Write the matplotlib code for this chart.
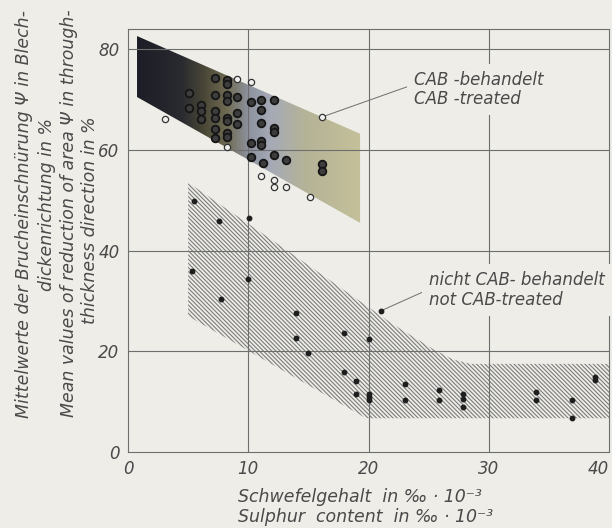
import numpy as np
import matplotlib
matplotlib.use("Agg")
import matplotlib.pyplot as plt
from matplotlib.patches import Polygon
from matplotlib.colors import LinearSegmentedColormap

# CAB-treated, filled circles
cab_x = [7.2, 8.2, 8.2, 5.1, 7.2, 8.2, 8.2, 9.1, 10.2, 11.1, 12.1, 5.1, 6.1, 6.1, 6.1,
         7.2, 7.2, 8.2, 8.2, 9.1, 9.1, 11.1, 11.1, 12.1, 12.1, 7.2, 7.2, 8.2, 8.2,
         10.2, 11.1, 11.1, 10.2, 12.1, 11.2, 13.1, 16.1, 16.1]
cab_y = [74.3, 73.8, 73.0, 71.3, 70.9, 70.9, 69.7, 70.5, 69.5, 69.9, 69.9, 68.3, 69.0, 67.7, 66.1,
         67.7, 66.4, 66.4, 65.7, 67.4, 65.1, 68.0, 65.4, 64.4, 63.6, 64.1, 62.3, 63.4, 62.6,
         61.4, 61.8, 61.0, 58.6, 59.0, 57.4, 58.0, 57.2, 55.8]

# CAB-treated, open circles
open_x = [3.1, 9.1, 10.2, 8.2, 16.1, 11.1, 12.1, 12.1, 13.1, 15.1]
open_y = [66.2, 74.0, 73.5, 60.5, 66.5, 54.8, 54.0, 52.7, 52.7, 50.6]

# not CAB-treated, small dots
not_x = [5.5, 7.6, 10.1, 5.3, 10.0, 7.7, 14.0, 14.0, 15.0, 18.0, 20.0, 21.0, 18.0, 19.0, 19.0,
         20.0, 20.0, 20.0, 23.0, 23.0, 25.9, 25.9, 27.9, 27.9, 27.9, 33.9, 33.9, 36.9, 36.9,
         38.8, 38.8]
not_y = [49.8, 45.9, 46.5, 35.9, 34.4, 30.4, 27.7, 22.7, 19.6, 23.7, 22.5, 28.0, 15.8, 14.1, 11.5,
         11.6, 11.0, 10.3, 13.6, 10.4, 12.3, 10.3, 11.6, 10.6, 9.0, 11.9, 10.3, 10.3, 6.7,
         14.8, 14.3]

# scatter bands
cab_band = [(0.75, 82.6), (19.3, 63.2), (19.3, 45.5), (0.75, 70.5)]
not_band = [(5.0, 53.5), (13.25, 40.0), (20.75, 27.5), (22.0, 25.4), (23.5, 23.2),
            (25.4, 20.4), (27.0, 18.4), (28.5, 17.5), (40, 17.5), (40, 6.7),
            (19.8, 6.7), (5.0, 27.0)]

bg = "#eeede8"
ink = "#4a4a4a"
grid_c = "#6e6e6e"

fig = plt.figure(figsize=(6.12, 5.28), dpi=100, facecolor=bg)
ax = fig.add_axes([128 / 612, 1 - 452 / 528, 481 / 612, 423 / 528])
ax.set_facecolor(bg)

# gradient band for CAB-treated
cmap = LinearSegmentedColormap.from_list("cab", [
    (0.00, "#1c1d26"), (0.20, "#2a2b30"), (0.30, "#4a4737"), (0.40, "#6f6b52"),
    (0.50, "#8e93a0"), (0.60, "#a5aab6"), (0.75, "#b5b397"), (1.00, "#c4c09a")])
grad = np.linspace(0, 1, 256).reshape(1, -1)
im = ax.imshow(grad, cmap=cmap, aspect="auto", extent=(0.75, 19.3, 45.5, 82.6),
               origin="lower", zorder=1, interpolation="bilinear")
clip = Polygon(cab_band, closed=True, facecolor="none", edgecolor="none")
ax.add_patch(clip)
im.set_clip_path(clip)

# hatched band for not CAB-treated
plt.rcParams["hatch.linewidth"] = 0.8
ax.add_patch(Polygon(not_band, closed=True, facecolor="none", edgecolor="#7c7c7c",
                     linewidth=0, hatch="\\" * 8, zorder=1))

ax.set_xlim(0, 40)
ax.set_ylim(0, 84)

for gx in [10, 20, 30]:
    ax.axvline(gx, color=grid_c, lw=0.8, zorder=2)
for gy in [20, 40, 60, 80]:
    ax.axhline(gy, color=grid_c, lw=0.8, zorder=2)
for s in ax.spines.values():
    s.set_color(grid_c)
    s.set_linewidth(0.8)

ax.plot(not_x, not_y, "o", ms=3.2, color="#1e1e1e", mec="#1e1e1e", zorder=4)
ax.plot(cab_x, cab_y, "o", ms=5.5, mfc="#3d3d3d", mec="#151515", mew=1.3, zorder=4)
ax.plot(open_x, open_y, "o", ms=4.5, mfc="#f0f0ee", mec="#333333", mew=0.9, zorder=4)

ax.set_xticks([0, 10, 20, 30, 40])
ax.set_yticks([0, 20, 40, 60, 80])
ax.tick_params(length=0, labelsize=12, labelcolor=ink, pad=6)
for lab in ax.get_xticklabels() + ax.get_yticklabels():
    lab.set_fontstyle("italic")
ax.get_xticklabels()[-1].set_horizontalalignment("right")

txt = dict(fontsize=12.5, fontstyle="italic", color=ink)

# annotations with paper-coloured box that hides the grid behind them
ax.text(23.75, 72, "CAB -behandelt\nCAB -treated", ha="left", va="center",
        linespacing=1.1, zorder=5, bbox=dict(facecolor=bg, edgecolor="none", pad=5),
        fontsize=12, fontstyle="italic", color=ink)
ax.plot([16.1, 23.3], [66.5, 72.6], color=grid_c, lw=0.7, zorder=3)
ax.text(25.0, 32.2, "nicht CAB- behandelt\nnot CAB-treated", ha="left", va="center",
        linespacing=1.1, zorder=5, bbox=dict(facecolor=bg, edgecolor="none", pad=5),
        fontsize=12, fontstyle="italic", color=ink)
ax.plot([21.0, 25.2], [28.0, 32.5], color=grid_c, lw=0.7, zorder=3)

# axis titles
fig.text(238 / 612, 1 - 497 / 528, "Schwefelgehalt  in ‰ · 10⁻³", ha="left", va="center", **txt)
fig.text(238 / 612, 1 - 517 / 528, "Sulphur  content  in ‰ · 10⁻³", ha="left", va="center", **txt)

ylines = [
    (24, 214, "Mittelwerte der Brucheinschnürung Ψ in Blech-"),
    (47, 205, "dickenrichtung in %"),
    (69, 213, "Mean values of reduction of area Ψ in through-"),
    (90, 220, "thickness direction in %"),
]
for px, py, s in ylines:
    fig.text(px / 612, 1 - py / 528, s, rotation=90, ha="center", va="center", **txt)

fig.savefig("out.png", dpi=100, facecolor=bg)
